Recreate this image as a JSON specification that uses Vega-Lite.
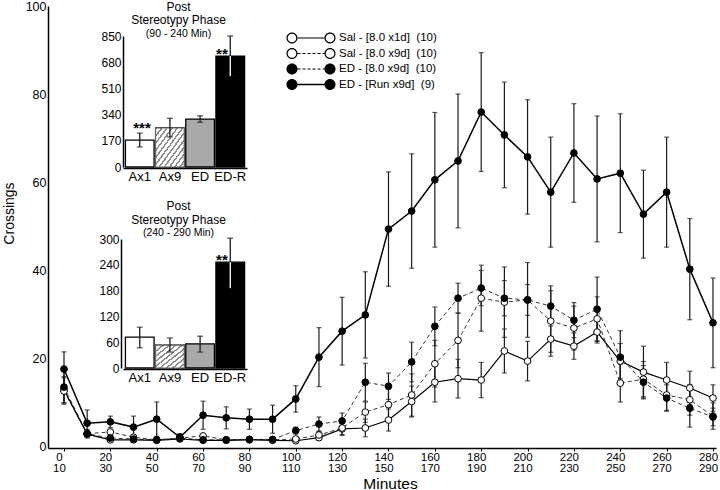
{
  "$schema": "https://vega.github.io/schema/vega-lite/v6.json",
  "width": 668,
  "height": 442,
  "autosize": {"type": "none"},
  "padding": {"left": 48, "top": 6, "right": 4, "bottom": 42},
  "background": "white",
  "config": {
    "font": "Liberation Sans",
    "view": {"stroke": null},
    "axis": {"grid": false, "domainColor": "black", "tickColor": "black", "labelColor": "black", "titleColor": "black", "labelFont": "Liberation Sans", "titleFont": "Liberation Sans", "titleFontWeight": "normal"},
    "legend": {"labelFont": "Liberation Sans"}
  },
  "datasets": {
    "main": [
      {"t": 0, "v": 12.8, "e": 3.0, "g": "Sal - [8.0 x1d]\u00a0 (10)"},
      {"t": 10, "v": 2.7, "e": 0.5, "g": "Sal - [8.0 x1d]\u00a0 (10)"},
      {"t": 20, "v": 1.4, "e": 0.3, "g": "Sal - [8.0 x1d]\u00a0 (10)"},
      {"t": 30, "v": 1.4, "e": 0.3, "g": "Sal - [8.0 x1d]\u00a0 (10)"},
      {"t": 40, "v": 1.3, "e": 0.3, "g": "Sal - [8.0 x1d]\u00a0 (10)"},
      {"t": 50, "v": 1.6, "e": 0.3, "g": "Sal - [8.0 x1d]\u00a0 (10)"},
      {"t": 60, "v": 1.3, "e": 0.3, "g": "Sal - [8.0 x1d]\u00a0 (10)"},
      {"t": 70, "v": 1.3, "e": 0.3, "g": "Sal - [8.0 x1d]\u00a0 (10)"},
      {"t": 80, "v": 1.4, "e": 0.3, "g": "Sal - [8.0 x1d]\u00a0 (10)"},
      {"t": 90, "v": 1.3, "e": 0.3, "g": "Sal - [8.0 x1d]\u00a0 (10)"},
      {"t": 100, "v": 1.2, "e": 0.3, "g": "Sal - [8.0 x1d]\u00a0 (10)"},
      {"t": 110, "v": 1.9, "e": 0.6, "g": "Sal - [8.0 x1d]\u00a0 (10)"},
      {"t": 120, "v": 3.9, "e": 1.5, "g": "Sal - [8.0 x1d]\u00a0 (10)"},
      {"t": 130, "v": 4.1, "e": 2.0, "g": "Sal - [8.0 x1d]\u00a0 (10)"},
      {"t": 140, "v": 5.9, "e": 2.5, "g": "Sal - [8.0 x1d]\u00a0 (10)"},
      {"t": 150, "v": 10.1, "e": 3.5, "g": "Sal - [8.0 x1d]\u00a0 (10)"},
      {"t": 160, "v": 14.5, "e": 4.5, "g": "Sal - [8.0 x1d]\u00a0 (10)"},
      {"t": 170, "v": 15.3, "e": 4.4, "g": "Sal - [8.0 x1d]\u00a0 (10)"},
      {"t": 180, "v": 15.0, "e": 4.0, "g": "Sal - [8.0 x1d]\u00a0 (10)"},
      {"t": 190, "v": 21.6, "e": 5.0, "g": "Sal - [8.0 x1d]\u00a0 (10)"},
      {"t": 200, "v": 19.3, "e": 4.5, "g": "Sal - [8.0 x1d]\u00a0 (10)"},
      {"t": 210, "v": 24.3, "e": 3.0, "g": "Sal - [8.0 x1d]\u00a0 (10)"},
      {"t": 220, "v": 22.7, "e": 3.0, "g": "Sal - [8.0 x1d]\u00a0 (10)"},
      {"t": 230, "v": 25.9, "e": 2.5, "g": "Sal - [8.0 x1d]\u00a0 (10)"},
      {"t": 240, "v": 19.3, "e": 4.0, "g": "Sal - [8.0 x1d]\u00a0 (10)"},
      {"t": 250, "v": 16.8, "e": 5.9, "g": "Sal - [8.0 x1d]\u00a0 (10)"},
      {"t": 260, "v": 15.0, "e": 4.0, "g": "Sal - [8.0 x1d]\u00a0 (10)"},
      {"t": 270, "v": 13.2, "e": 3.8, "g": "Sal - [8.0 x1d]\u00a0 (10)"},
      {"t": 280, "v": 10.9, "e": 3.0, "g": "Sal - [8.0 x1d]\u00a0 (10)"},
      {"t": 0, "v": 12.5, "e": 3.0, "g": "Sal - [8.0 x9d]\u00a0 (10)"},
      {"t": 10, "v": 2.8, "e": 0.8, "g": "Sal - [8.0 x9d]\u00a0 (10)"},
      {"t": 20, "v": 3.2, "e": 0.6, "g": "Sal - [8.0 x9d]\u00a0 (10)"},
      {"t": 30, "v": 2.0, "e": 0.4, "g": "Sal - [8.0 x9d]\u00a0 (10)"},
      {"t": 40, "v": 1.4, "e": 0.3, "g": "Sal - [8.0 x9d]\u00a0 (10)"},
      {"t": 50, "v": 1.8, "e": 0.4, "g": "Sal - [8.0 x9d]\u00a0 (10)"},
      {"t": 60, "v": 2.3, "e": 0.4, "g": "Sal - [8.0 x9d]\u00a0 (10)"},
      {"t": 70, "v": 1.4, "e": 0.3, "g": "Sal - [8.0 x9d]\u00a0 (10)"},
      {"t": 80, "v": 1.5, "e": 0.3, "g": "Sal - [8.0 x9d]\u00a0 (10)"},
      {"t": 90, "v": 1.4, "e": 0.3, "g": "Sal - [8.0 x9d]\u00a0 (10)"},
      {"t": 100, "v": 1.6, "e": 0.5, "g": "Sal - [8.0 x9d]\u00a0 (10)"},
      {"t": 110, "v": 2.5, "e": 0.8, "g": "Sal - [8.0 x9d]\u00a0 (10)"},
      {"t": 120, "v": 4.1, "e": 1.5, "g": "Sal - [8.0 x9d]\u00a0 (10)"},
      {"t": 130, "v": 7.7, "e": 2.3, "g": "Sal - [8.0 x9d]\u00a0 (10)"},
      {"t": 140, "v": 9.4, "e": 3.5, "g": "Sal - [8.0 x9d]\u00a0 (10)"},
      {"t": 150, "v": 11.6, "e": 4.8, "g": "Sal - [8.0 x9d]\u00a0 (10)"},
      {"t": 160, "v": 18.7, "e": 5.3, "g": "Sal - [8.0 x9d]\u00a0 (10)"},
      {"t": 170, "v": 24.0, "e": 6.2, "g": "Sal - [8.0 x9d]\u00a0 (10)"},
      {"t": 180, "v": 33.6, "e": 7.5, "g": "Sal - [8.0 x9d]\u00a0 (10)"},
      {"t": 190, "v": 32.7, "e": 8.0, "g": "Sal - [8.0 x9d]\u00a0 (10)"},
      {"t": 200, "v": 33.2, "e": 8.5, "g": "Sal - [8.0 x9d]\u00a0 (10)"},
      {"t": 210, "v": 28.4, "e": 8.0, "g": "Sal - [8.0 x9d]\u00a0 (10)"},
      {"t": 220, "v": 26.8, "e": 5.0, "g": "Sal - [8.0 x9d]\u00a0 (10)"},
      {"t": 230, "v": 28.9, "e": 5.0, "g": "Sal - [8.0 x9d]\u00a0 (10)"},
      {"t": 240, "v": 14.3, "e": 4.3, "g": "Sal - [8.0 x9d]\u00a0 (10)"},
      {"t": 250, "v": 15.2, "e": 4.0, "g": "Sal - [8.0 x9d]\u00a0 (10)"},
      {"t": 260, "v": 11.6, "e": 3.5, "g": "Sal - [8.0 x9d]\u00a0 (10)"},
      {"t": 270, "v": 10.5, "e": 3.5, "g": "Sal - [8.0 x9d]\u00a0 (10)"},
      {"t": 280, "v": 6.8, "e": 3.0, "g": "Sal - [8.0 x9d]\u00a0 (10)"},
      {"t": 0, "v": 13.4, "e": 3.6, "g": "ED - [8.0 x9d]\u00a0 (10)"},
      {"t": 10, "v": 2.8, "e": 1.0, "g": "ED - [8.0 x9d]\u00a0 (10)"},
      {"t": 20, "v": 1.8, "e": 0.6, "g": "ED - [8.0 x9d]\u00a0 (10)"},
      {"t": 30, "v": 1.6, "e": 0.5, "g": "ED - [8.0 x9d]\u00a0 (10)"},
      {"t": 40, "v": 1.4, "e": 0.4, "g": "ED - [8.0 x9d]\u00a0 (10)"},
      {"t": 50, "v": 1.8, "e": 0.6, "g": "ED - [8.0 x9d]\u00a0 (10)"},
      {"t": 60, "v": 1.4, "e": 0.4, "g": "ED - [8.0 x9d]\u00a0 (10)"},
      {"t": 70, "v": 1.4, "e": 0.4, "g": "ED - [8.0 x9d]\u00a0 (10)"},
      {"t": 80, "v": 1.5, "e": 0.4, "g": "ED - [8.0 x9d]\u00a0 (10)"},
      {"t": 90, "v": 1.5, "e": 0.4, "g": "ED - [8.0 x9d]\u00a0 (10)"},
      {"t": 100, "v": 3.5, "e": 0.8, "g": "ED - [8.0 x9d]\u00a0 (10)"},
      {"t": 110, "v": 5.0, "e": 1.6, "g": "ED - [8.0 x9d]\u00a0 (10)"},
      {"t": 120, "v": 5.7, "e": 1.8, "g": "ED - [8.0 x9d]\u00a0 (10)"},
      {"t": 130, "v": 14.5, "e": 4.3, "g": "ED - [8.0 x9d]\u00a0 (10)"},
      {"t": 140, "v": 13.6, "e": 3.0, "g": "ED - [8.0 x9d]\u00a0 (10)"},
      {"t": 150, "v": 19.1, "e": 4.5, "g": "ED - [8.0 x9d]\u00a0 (10)"},
      {"t": 160, "v": 27.2, "e": 4.4, "g": "ED - [8.0 x9d]\u00a0 (10)"},
      {"t": 170, "v": 33.6, "e": 3.4, "g": "ED - [8.0 x9d]\u00a0 (10)"},
      {"t": 180, "v": 35.9, "e": 4.0, "g": "ED - [8.0 x9d]\u00a0 (10)"},
      {"t": 190, "v": 33.6, "e": 4.0, "g": "ED - [8.0 x9d]\u00a0 (10)"},
      {"t": 200, "v": 33.2, "e": 3.5, "g": "ED - [8.0 x9d]\u00a0 (10)"},
      {"t": 210, "v": 31.8, "e": 3.5, "g": "ED - [8.0 x9d]\u00a0 (10)"},
      {"t": 220, "v": 28.6, "e": 4.0, "g": "ED - [8.0 x9d]\u00a0 (10)"},
      {"t": 230, "v": 31.1, "e": 7.3, "g": "ED - [8.0 x9d]\u00a0 (10)"},
      {"t": 240, "v": 20.2, "e": 6.0, "g": "ED - [8.0 x9d]\u00a0 (10)"},
      {"t": 250, "v": 14.5, "e": 3.8, "g": "ED - [8.0 x9d]\u00a0 (10)"},
      {"t": 260, "v": 10.9, "e": 3.0, "g": "ED - [8.0 x9d]\u00a0 (10)"},
      {"t": 270, "v": 8.6, "e": 4.3, "g": "ED - [8.0 x9d]\u00a0 (10)"},
      {"t": 280, "v": 6.6, "e": 2.0, "g": "ED - [8.0 x9d]\u00a0 (10)"},
      {"t": 0, "v": 17.5, "e": 3.9, "g": "ED - [Run x9d]\u00a0 (9)"},
      {"t": 10, "v": 5.2, "e": 3.0, "g": "ED - [Run x9d]\u00a0 (9)"},
      {"t": 20, "v": 5.5, "e": 1.3, "g": "ED - [Run x9d]\u00a0 (9)"},
      {"t": 30, "v": 4.3, "e": 2.5, "g": "ED - [Run x9d]\u00a0 (9)"},
      {"t": 40, "v": 6.1, "e": 3.9, "g": "ED - [Run x9d]\u00a0 (9)"},
      {"t": 50, "v": 2.0, "e": 0.8, "g": "ED - [Run x9d]\u00a0 (9)"},
      {"t": 60, "v": 7.0, "e": 3.2, "g": "ED - [Run x9d]\u00a0 (9)"},
      {"t": 70, "v": 6.4, "e": 2.5, "g": "ED - [Run x9d]\u00a0 (9)"},
      {"t": 80, "v": 6.1, "e": 2.3, "g": "ED - [Run x9d]\u00a0 (9)"},
      {"t": 90, "v": 6.1, "e": 3.2, "g": "ED - [Run x9d]\u00a0 (9)"},
      {"t": 100, "v": 10.7, "e": 3.0, "g": "ED - [Run x9d]\u00a0 (9)"},
      {"t": 110, "v": 20.2, "e": 6.7, "g": "ED - [Run x9d]\u00a0 (9)"},
      {"t": 120, "v": 26.1, "e": 7.7, "g": "ED - [Run x9d]\u00a0 (9)"},
      {"t": 130, "v": 29.8, "e": 9.8, "g": "ED - [Run x9d]\u00a0 (9)"},
      {"t": 140, "v": 49.3, "e": 13.0, "g": "ED - [Run x9d]\u00a0 (9)"},
      {"t": 150, "v": 53.4, "e": 13.0, "g": "ED - [Run x9d]\u00a0 (9)"},
      {"t": 160, "v": 60.5, "e": 15.3, "g": "ED - [Run x9d]\u00a0 (9)"},
      {"t": 170, "v": 64.8, "e": 15.2, "g": "ED - [Run x9d]\u00a0 (9)"},
      {"t": 180, "v": 75.9, "e": 13.5, "g": "ED - [Run x9d]\u00a0 (9)"},
      {"t": 190, "v": 70.7, "e": 12.0, "g": "ED - [Run x9d]\u00a0 (9)"},
      {"t": 200, "v": 65.7, "e": 13.0, "g": "ED - [Run x9d]\u00a0 (9)"},
      {"t": 210, "v": 57.7, "e": 12.5, "g": "ED - [Run x9d]\u00a0 (9)"},
      {"t": 220, "v": 66.6, "e": 11.2, "g": "ED - [Run x9d]\u00a0 (9)"},
      {"t": 230, "v": 60.7, "e": 14.3, "g": "ED - [Run x9d]\u00a0 (9)"},
      {"t": 240, "v": 62.0, "e": 13.5, "g": "ED - [Run x9d]\u00a0 (9)"},
      {"t": 250, "v": 52.7, "e": 10.0, "g": "ED - [Run x9d]\u00a0 (9)"},
      {"t": 260, "v": 57.7, "e": 12.5, "g": "ED - [Run x9d]\u00a0 (9)"},
      {"t": 270, "v": 40.2, "e": 11.5, "g": "ED - [Run x9d]\u00a0 (9)"},
      {"t": 280, "v": 28.0, "e": 10.2, "g": "ED - [Run x9d]\u00a0 (9)"}
    ],
    "bars1": [
      {"bar": "Ax1", "v": 175, "lo": 130, "hi": 220},
      {"bar": "Ax9", "v": 253, "lo": 195, "hi": 316},
      {"bar": "ED", "v": 311, "lo": 290, "hi": 332},
      {"bar": "ED-R", "v": 720, "lo": 590, "hi": 850}
    ],
    "bars2": [
      {"bar": "Ax1", "v": 72, "lo": 47, "hi": 95},
      {"bar": "Ax9", "v": 53, "lo": 37, "hi": 70},
      {"bar": "ED", "v": 56, "lo": 37, "hi": 74},
      {"bar": "ED-R", "v": 246, "lo": 186, "hi": 302}
    ]
  },
  "layer": [
    {
      "data": {"name": "main"},
      "encoding": {
        "x": {"field": "t", "type": "quantitative",
          "scale": {"domain": [-6.9, 281.3], "nice": false, "zero": false},
          "axis": {"values": [0, 20, 40, 60, 80, 100, 120, 140, 160, 180, 200, 220, 240, 260, 280],
            "labelExpr": "[datum.label, '' + (datum.value + 10)]",
            "labelFontSize": 11.5, "labelOffset": -5, "tickSize": 3, "labelPadding": 0, "labelLineHeight": 11.5,
            "labelFlush": false, "labelOverlap": false, "domainWidth": 1.5,
            "title": "Minutes", "titleFontSize": 15.5, "titleX": 342, "titleY": 40, "titleBaseline": "alphabetic", "titleAlign": "center"}},
        "y": {"field": "v", "type": "quantitative",
          "scale": {"domain": [-0.45, 100], "nice": false, "zero": false},
          "axis": {"values": [0, 20, 40, 60, 80, 100], "ticks": false, "labelPadding": 2, "labelFontSize": 12.5,
            "labelFlush": false, "domainWidth": 1.5,
            "title": "Crossings", "titleFontSize": 14, "titleX": -35, "titleY": 207, "titleAngle": -90,
            "titleBaseline": "alphabetic", "titleAlign": "center"}}
      },
      "layer": [
        {"mark": {"type": "errorbar", "ticks": {"size": 5}, "color": "#1a1a1a", "thickness": 1.2},
         "encoding": {"yError": {"field": "e"}}},
        {"transform": [{"filter": "indexof(datum.g, '8.0 x9d') >= 0"}],
         "mark": {"type": "line", "color": "black", "strokeWidth": 0.8, "strokeDash": [4, 3]},
         "encoding": {"detail": {"field": "g", "type": "nominal"}}},
        {"transform": [{"filter": "indexof(datum.g, 'x1d') >= 0"}],
         "mark": {"type": "line", "color": "black", "strokeWidth": 1.2},
         "encoding": {"detail": {"field": "g", "type": "nominal"}}},
        {"transform": [{"filter": "indexof(datum.g, 'Run') >= 0"}],
         "mark": {"type": "line", "color": "black", "strokeWidth": 1.5},
         "encoding": {"detail": {"field": "g", "type": "nominal"}}},
        {"mark": {"type": "point", "filled": true, "size": 45, "stroke": "black", "strokeWidth": 1, "opacity": 1},
         "encoding": {
           "fill": {"field": "g", "type": "nominal",
             "scale": {"range": ["black", "black", "white", "white"]},
             "legend": null}
         }},
        {"mark": {"type": "point", "filled": true, "color": "black", "size": 0},
         "encoding": {
           "shape": {"field": "g", "type": "nominal",
             "scale": {"domain": ["Sal - [8.0 x1d]\u00a0 (10)", "Sal - [8.0 x9d]\u00a0 (10)", "ED - [8.0 x9d]\u00a0 (10)", "ED - [Run x9d]\u00a0 (9)"],
               "range": [
                 "M-4.09,0A0.92,0.92,0,1,1,-2.25,0A0.92,0.92,0,1,1,-4.09,0ZM-3.89,0A0.72,0.72,0,1,0,-2.45,0A0.72,0.72,0,1,0,-3.89,0ZM-2.25,-0.1L2.25,-0.1L2.25,0.1L-2.25,0.1ZM2.25,0A0.92,0.92,0,1,1,4.09,0A0.92,0.92,0,1,1,2.25,0ZM2.45,0A0.72,0.72,0,1,0,3.89,0A0.72,0.72,0,1,0,2.45,0Z",
                 "M-4.09,0A0.92,0.92,0,1,1,-2.25,0A0.92,0.92,0,1,1,-4.09,0ZM-3.89,0A0.72,0.72,0,1,0,-2.45,0A0.72,0.72,0,1,0,-3.89,0ZM-2.25,-0.08L-1.75,-0.08L-1.75,0.08L-2.25,0.08ZM-1.42,-0.08L-0.92,-0.08L-0.92,0.08L-1.42,0.08ZM-0.58,-0.08L-0.08,-0.08L-0.08,0.08L-0.58,0.08ZM0.25,-0.08L0.75,-0.08L0.75,0.08L0.25,0.08ZM1.08,-0.08L1.58,-0.08L1.58,0.08L1.08,0.08ZM1.92,-0.08L2.25,-0.08L2.25,0.08L1.92,0.08ZM2.25,0A0.92,0.92,0,1,1,4.09,0A0.92,0.92,0,1,1,2.25,0ZM2.45,0A0.72,0.72,0,1,0,3.89,0A0.72,0.72,0,1,0,2.45,0Z",
                 "M-4.09,0A0.92,0.92,0,1,1,-2.25,0A0.92,0.92,0,1,1,-4.09,0ZM-2.25,-0.08L-1.75,-0.08L-1.75,0.08L-2.25,0.08ZM-1.42,-0.08L-0.92,-0.08L-0.92,0.08L-1.42,0.08ZM-0.58,-0.08L-0.08,-0.08L-0.08,0.08L-0.58,0.08ZM0.25,-0.08L0.75,-0.08L0.75,0.08L0.25,0.08ZM1.08,-0.08L1.58,-0.08L1.58,0.08L1.08,0.08ZM1.92,-0.08L2.25,-0.08L2.25,0.08L1.92,0.08ZM2.25,0A0.92,0.92,0,1,1,4.09,0A0.92,0.92,0,1,1,2.25,0Z",
                 "M-4.09,0A0.92,0.92,0,1,1,-2.25,0A0.92,0.92,0,1,1,-4.09,0ZM-2.25,-0.12L2.25,-0.12L2.25,0.12L-2.25,0.12ZM2.25,0A0.92,0.92,0,1,1,4.09,0A0.92,0.92,0,1,1,2.25,0Z"
               ]},
             "legend": {"title": null, "orient": "none", "legendX": 257, "legendY": 26,
               "symbolSize": 144, "symbolFillColor": "black", "symbolStrokeWidth": 0, "symbolOpacity": 1,
               "labelFontSize": 11.5, "labelOffset": 22, "rowPadding": 3.5, "labelLimit": 300, "labelColor": "black"}}
         }}
      ]
    },
    {
      "data": {"name": "bars1"},
      "encoding": {
        "x": {"field": "bar", "type": "nominal", "sort": null,
          "scale": {"domain": ["Ax1", "Ax9", "ED", "ED-R"], "range": [75, 199], "paddingInner": 0.05, "paddingOuter": 0.08},
          "axis": {"orient": "bottom", "offset": -280, "title": null, "ticks": false, "labelAngle": 0, "labelFontSize": 13, "labelPadding": 2, "domainWidth": 1.5}},
        "y": {"field": "v", "type": "quantitative",
          "scale": {"domain": [0, 850], "range": [161, 30], "nice": false, "zero": false},
          "axis": {"orient": "left", "offset": -75, "values": [0, 170, 340, 510, 680, 850], "ticks": false, "title": null, "labelFontSize": 12, "labelPadding": 2, "domainWidth": 1.5, "labelFlush": false}}
      },
      "layer": [
        {"mark": {"type": "bar", "stroke": "black", "strokeWidth": 1.3},
         "encoding": {"color": {"field": "bar", "type": "nominal",
           "scale": {"domain": ["Ax1", "Ax9", "ED", "ED-R"], "range": ["white", "#d6d6d6", "#a9a9a9", "black"]}, "legend": null}}},
        {"transform": [{"filter": "datum.bar == 'Ax9'"}],
         "mark": {"type": "bar", "stroke": "#666666", "strokeWidth": 1.2,
           "fill": {"gradient": "linear", "x1": 0, "y1": 0, "x2": 1, "y2": 1, "stops": [
             {"offset": 0, "color": "#8c8c8c"}, {"offset": 0.0318, "color": "#8c8c8c"}, {"offset": 0.0318, "color": "white"}, {"offset": 0.0909, "color": "white"},
             {"offset": 0.0909, "color": "#8c8c8c"}, {"offset": 0.1227, "color": "#8c8c8c"}, {"offset": 0.1227, "color": "white"}, {"offset": 0.1818, "color": "white"},
             {"offset": 0.1818, "color": "#8c8c8c"}, {"offset": 0.2136, "color": "#8c8c8c"}, {"offset": 0.2136, "color": "white"}, {"offset": 0.2727, "color": "white"},
             {"offset": 0.2727, "color": "#8c8c8c"}, {"offset": 0.3045, "color": "#8c8c8c"}, {"offset": 0.3045, "color": "white"}, {"offset": 0.3636, "color": "white"},
             {"offset": 0.3636, "color": "#8c8c8c"}, {"offset": 0.3955, "color": "#8c8c8c"}, {"offset": 0.3955, "color": "white"}, {"offset": 0.4545, "color": "white"},
             {"offset": 0.4545, "color": "#8c8c8c"}, {"offset": 0.4864, "color": "#8c8c8c"}, {"offset": 0.4864, "color": "white"}, {"offset": 0.5455, "color": "white"},
             {"offset": 0.5455, "color": "#8c8c8c"}, {"offset": 0.5773, "color": "#8c8c8c"}, {"offset": 0.5773, "color": "white"}, {"offset": 0.6364, "color": "white"},
             {"offset": 0.6364, "color": "#8c8c8c"}, {"offset": 0.6682, "color": "#8c8c8c"}, {"offset": 0.6682, "color": "white"}, {"offset": 0.7273, "color": "white"},
             {"offset": 0.7273, "color": "#8c8c8c"}, {"offset": 0.7591, "color": "#8c8c8c"}, {"offset": 0.7591, "color": "white"}, {"offset": 0.8182, "color": "white"},
             {"offset": 0.8182, "color": "#8c8c8c"}, {"offset": 0.85, "color": "#8c8c8c"}, {"offset": 0.85, "color": "white"}, {"offset": 0.9091, "color": "white"},
             {"offset": 0.9091, "color": "#8c8c8c"}, {"offset": 0.9409, "color": "#8c8c8c"}, {"offset": 0.9409, "color": "white"}, {"offset": 1, "color": "white"}
           ]}}},
        {"mark": {"type": "errorbar", "ticks": {"size": 6}, "color": "#1a1a1a", "thickness": 1.3},
         "encoding": {"y": {"field": "lo", "type": "quantitative"}, "y2": {"field": "hi"}}},
        {"transform": [{"filter": "datum.bar == 'ED-R'"}],
         "mark": {"type": "rule", "color": "white", "strokeWidth": 1.3},
         "encoding": {"y": {"field": "lo", "type": "quantitative"}, "y2": {"field": "v"}}},
        {"data": {"values": [{"bar": "Ax9", "y": 1038, "txt": "Post"}, {"bar": "Ax9", "y": 951, "txt": "Stereotypy Phase"}]},
         "mark": {"type": "text", "fontSize": 12, "color": "black", "baseline": "middle"},
         "encoding": {"x": {"field": "bar", "type": "nominal", "bandPosition": 0.8}, "y": {"field": "y", "type": "quantitative"}, "text": {"field": "txt"}}},
        {"data": {"values": [{"bar": "Ax9", "y": 866, "txt": "(90 - 240 Min)"}]},
         "mark": {"type": "text", "fontSize": 10.5, "color": "black", "baseline": "middle"},
         "encoding": {"x": {"field": "bar", "type": "nominal", "bandPosition": 0.8}, "y": {"field": "y", "type": "quantitative"}, "text": {"field": "txt"}}},
        {"data": {"values": [{"bar": "Ax1", "y": 250, "s": "***"}]},
         "mark": {"type": "text", "fontSize": 15, "fontWeight": "bold", "color": "black", "baseline": "middle"},
         "encoding": {"x": {"field": "bar", "type": "nominal", "bandPosition": 0.58}, "y": {"field": "y", "type": "quantitative"}, "text": {"field": "s"}}},
        {"data": {"values": [{"bar": "ED-R", "y": 735, "s": "**"}]},
         "mark": {"type": "text", "fontSize": 15, "fontWeight": "bold", "color": "black", "baseline": "middle"},
         "encoding": {"x": {"field": "bar", "type": "nominal", "bandPosition": 0.21}, "y": {"field": "y", "type": "quantitative"}, "text": {"field": "s"}}}
      ]
    },
    {
      "data": {"name": "bars2"},
      "encoding": {
        "x": {"field": "bar", "type": "nominal", "sort": null,
          "scale": {"domain": ["Ax1", "Ax9", "ED", "ED-R"], "range": [75, 199], "paddingInner": 0.05, "paddingOuter": 0.08},
          "axis": {"orient": "bottom", "offset": -79, "title": null, "ticks": false, "labelAngle": 0, "labelFontSize": 13, "labelPadding": 2, "domainWidth": 1.5}},
        "y": {"field": "v", "type": "quantitative",
          "scale": {"domain": [0, 300], "range": [362, 233], "nice": false, "zero": false},
          "axis": {"orient": "left", "offset": -73, "values": [0, 60, 120, 180, 240, 300], "ticks": false, "title": null, "labelFontSize": 12, "labelPadding": 2, "domainWidth": 1.5, "labelFlush": false}}
      },
      "layer": [
        {"mark": {"type": "bar", "stroke": "black", "strokeWidth": 1.3},
         "encoding": {"color": {"field": "bar", "type": "nominal",
           "scale": {"domain": ["Ax1", "Ax9", "ED", "ED-R"], "range": ["white", "#d6d6d6", "#a9a9a9", "black"]}, "legend": null}}},
        {"transform": [{"filter": "datum.bar == 'Ax9'"}],
         "mark": {"type": "bar", "stroke": "#666666", "strokeWidth": 1.2,
           "fill": {"gradient": "linear", "x1": 0, "y1": 0, "x2": 1, "y2": 1, "stops": [
             {"offset": 0, "color": "#8c8c8c"}, {"offset": 0.04, "color": "#8c8c8c"}, {"offset": 0.04, "color": "white"}, {"offset": 0.1111, "color": "white"},
             {"offset": 0.1111, "color": "#8c8c8c"}, {"offset": 0.1511, "color": "#8c8c8c"}, {"offset": 0.1511, "color": "white"}, {"offset": 0.2222, "color": "white"},
             {"offset": 0.2222, "color": "#8c8c8c"}, {"offset": 0.2622, "color": "#8c8c8c"}, {"offset": 0.2622, "color": "white"}, {"offset": 0.3333, "color": "white"},
             {"offset": 0.3333, "color": "#8c8c8c"}, {"offset": 0.3733, "color": "#8c8c8c"}, {"offset": 0.3733, "color": "white"}, {"offset": 0.4444, "color": "white"},
             {"offset": 0.4444, "color": "#8c8c8c"}, {"offset": 0.4844, "color": "#8c8c8c"}, {"offset": 0.4844, "color": "white"}, {"offset": 0.5556, "color": "white"},
             {"offset": 0.5556, "color": "#8c8c8c"}, {"offset": 0.5956, "color": "#8c8c8c"}, {"offset": 0.5956, "color": "white"}, {"offset": 0.6667, "color": "white"},
             {"offset": 0.6667, "color": "#8c8c8c"}, {"offset": 0.7067, "color": "#8c8c8c"}, {"offset": 0.7067, "color": "white"}, {"offset": 0.7778, "color": "white"},
             {"offset": 0.7778, "color": "#8c8c8c"}, {"offset": 0.8178, "color": "#8c8c8c"}, {"offset": 0.8178, "color": "white"}, {"offset": 0.8889, "color": "white"},
             {"offset": 0.8889, "color": "#8c8c8c"}, {"offset": 0.9289, "color": "#8c8c8c"}, {"offset": 0.9289, "color": "white"}, {"offset": 1, "color": "white"}
           ]}}},
        {"mark": {"type": "errorbar", "ticks": {"size": 6}, "color": "#1a1a1a", "thickness": 1.3},
         "encoding": {"y": {"field": "lo", "type": "quantitative"}, "y2": {"field": "hi"}}},
        {"transform": [{"filter": "datum.bar == 'ED-R'"}],
         "mark": {"type": "rule", "color": "white", "strokeWidth": 1.3},
         "encoding": {"y": {"field": "lo", "type": "quantitative"}, "y2": {"field": "v"}}},
        {"data": {"values": [{"bar": "Ax9", "y": 377, "txt": "Post"}, {"bar": "Ax9", "y": 345, "txt": "Stereotypy Phase"}]},
         "mark": {"type": "text", "fontSize": 12, "color": "black", "baseline": "middle"},
         "encoding": {"x": {"field": "bar", "type": "nominal", "bandPosition": 0.8}, "y": {"field": "y", "type": "quantitative"}, "text": {"field": "txt"}}},
        {"data": {"values": [{"bar": "Ax9", "y": 315, "txt": "(240 - 290 Min)"}]},
         "mark": {"type": "text", "fontSize": 10.5, "color": "black", "baseline": "middle"},
         "encoding": {"x": {"field": "bar", "type": "nominal", "bandPosition": 0.8}, "y": {"field": "y", "type": "quantitative"}, "text": {"field": "txt"}}},
        {"data": {"values": [{"bar": "ED-R", "y": 252, "s": "**"}]},
         "mark": {"type": "text", "fontSize": 15, "fontWeight": "bold", "color": "black", "baseline": "middle"},
         "encoding": {"x": {"field": "bar", "type": "nominal", "bandPosition": 0.21}, "y": {"field": "y", "type": "quantitative"}, "text": {"field": "s"}}}
      ]
    }
  ],
  "resolve": {"scale": {"x": "independent", "y": "independent"}, "axis": {"x": "independent", "y": "independent"}}
}
